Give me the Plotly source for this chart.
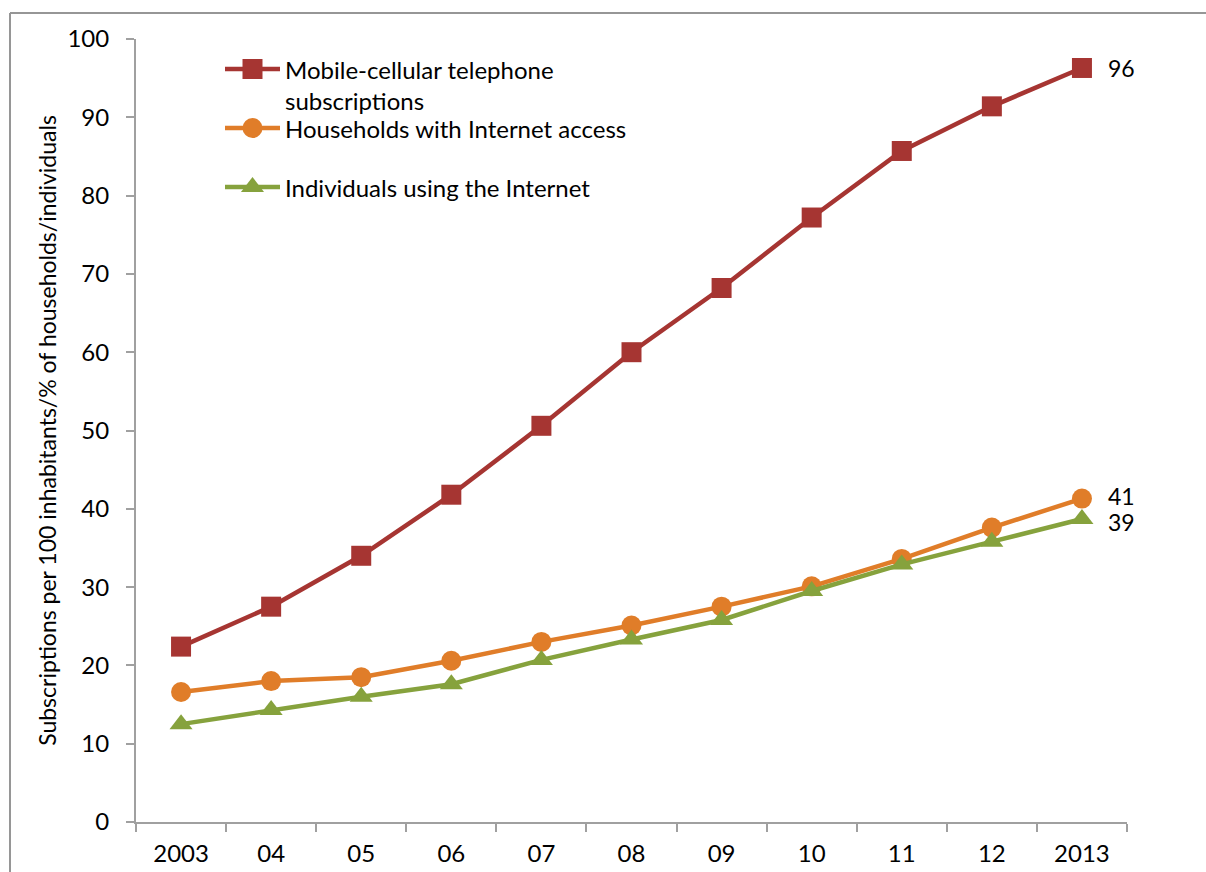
import plotly.graph_objects as go

# ---- data -------------------------------------------------------------
years = ["2003", "04", "05", "06", "07", "08", "09", "10", "11", "12", "2013"]
mobile = [22.4, 27.5, 34.0, 41.8, 50.6, 60.0, 68.2, 77.2, 85.7, 91.4, 96.3]
households = [16.6, 18.0, 18.5, 20.6, 23.0, 25.1, 27.5, 30.1, 33.6, 37.6, 41.3]
individuals = [12.5, 14.3, 16.0, 17.6, 20.7, 23.3, 25.8, 29.5, 32.9, 35.8, 38.7]

series_names = [
    "Mobile-cellular telephone<br>subscriptions",
    "Households with Internet access",
    "Individuals using the Internet",
]
colors = ["#A63532", "#E07D29", "#86A23D"]
symbols = ["square", "circle", "triangle-up"]
msizes = [20, 20, 20]
label_nudge = [0, 3, -3]  # keep the two close end labels apart

FONT = "Lato, Carlito, Calibri, 'Open Sans', sans-serif"
FS = 24
W, H = 1206, 872
ML, MR, MT, MB = 136, W - 1127, 39, H - 822
PW, PH = W - ML - MR, H - MT - MB
AXIS_GREY = "#A0A0A0"


def px_x(px):
    return (px - ML) / PW


def px_y(py):
    return (H - MB - py) / PH


fig = go.Figure()

for vals, col, sym, ms in zip([mobile, households, individuals], colors, symbols, msizes):
    fig.add_trace(go.Scatter(
        x=years, y=vals, mode="lines+markers",
        line=dict(color=col, width=4.5),
        marker=dict(symbol=sym, size=ms, color=col),
        cliponaxis=False, showlegend=False, hoverinfo="skip",
    ))

# value labels to the right of the last point
last_center = (len(years) - 0.5) / len(years)  # paper x of the last category
for vals, nudge in zip([mobile, households, individuals], label_nudge):
    fig.add_annotation(
        x=last_center, xref="paper", y=vals[-1], yref="y",
        text=f"{round(vals[-1])}", showarrow=False,
        xanchor="left", yanchor="middle", xshift=24, yshift=nudge,
        font=dict(family=FONT, size=23, color="#000"),
    )

# legend drawn on a pixel-space overlay axis
leg_rows = [69, 128, 187]
for name, col, sym, ms, row in zip(series_names, colors, symbols, msizes, leg_rows):
    fig.add_trace(go.Scatter(
        x=[225, 280], y=[row, row], xaxis="x2", yaxis="y2", mode="lines",
        line=dict(color=col, width=4.5), showlegend=False, hoverinfo="skip",
    ))
    fig.add_trace(go.Scatter(
        x=[252.5], y=[row], xaxis="x2", yaxis="y2", mode="markers",
        marker=dict(symbol=sym, size=ms, color=col), showlegend=False, hoverinfo="skip",
    ))
    fig.add_annotation(
        x=283, y=row - 16, xref="x2", yref="y2", text=name, showarrow=False,
        xanchor="left", yanchor="top", align="left",
        font=dict(family=FONT, size=FS, color="#000"),
    )

# outer chart frame
fig.add_shape(type="line", xref="paper", yref="paper",
              x0=px_x(10), x1=px_x(1210), y0=px_y(13), y1=px_y(13),
              line=dict(color="#969696", width=2))
fig.add_shape(type="line", xref="paper", yref="paper",
              x0=px_x(10), x1=px_x(10), y0=px_y(13), y1=px_y(880),
              line=dict(color="#969696", width=2))

fig.update_layout(
    width=W, height=H,
    margin=dict(l=ML, r=MR, t=MT, b=MB, autoexpand=False),
    paper_bgcolor="white", plot_bgcolor="white",
    font=dict(family=FONT, size=FS, color="#000"),
    showlegend=False,
    xaxis=dict(
        type="category", range=[-0.5, len(years) - 0.5], automargin=False,
        showgrid=False, zeroline=False,
        showline=True, linecolor=AXIS_GREY, linewidth=2,
        ticks="outside", tickson="boundaries", ticklen=8, tickwidth=2, tickcolor=AXIS_GREY,
        tickfont=dict(family=FONT, size=FS, color="#000"),
        ticklabelstandoff=9,
    ),
    yaxis=dict(
        range=[0, 100], dtick=10, showgrid=False, zeroline=False, automargin=False,
        showline=True, linecolor=AXIS_GREY, linewidth=2,
        ticks="outside", ticklen=8, tickwidth=2, tickcolor=AXIS_GREY,
        tickfont=dict(family=FONT, size=FS, color="#000"),
        ticklabelstandoff=12,
        title=dict(text="Subscriptions per 100 inhabitants/% of households/individuals",
                   font=dict(family=FONT, size=23, color="#000"), standoff=4),
    ),
    xaxis2=dict(overlaying="x", range=[ML, ML + PW], visible=False, fixedrange=True),
    yaxis2=dict(overlaying="y", range=[MT + PH, MT], visible=False, fixedrange=True),
)

fig.write_html("out.html")
